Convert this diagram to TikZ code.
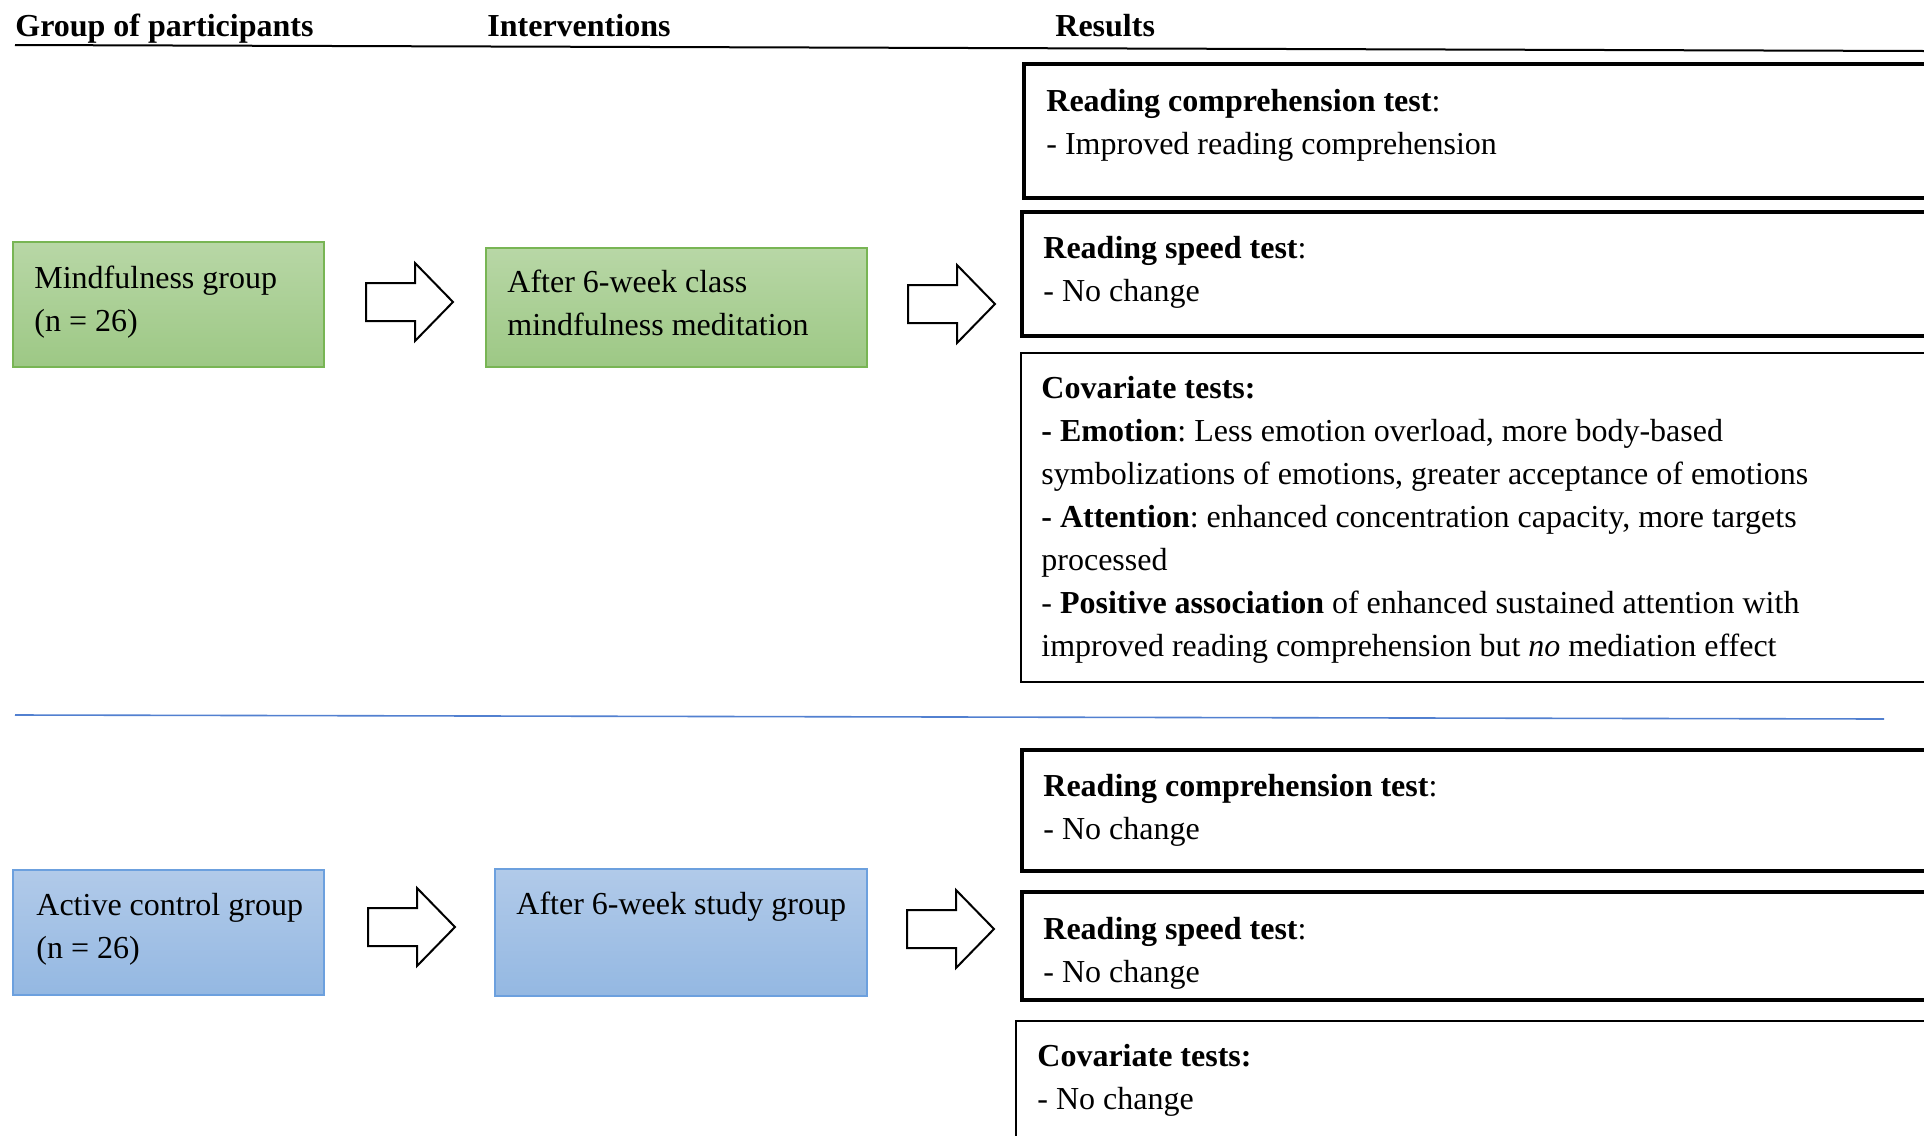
\documentclass[tikz,border=0pt]{standalone}
\usepackage{fontspec}
\setmainfont{Liberation Serif}
\frenchspacing
\definecolor{greenTop}{RGB}{184,215,166}
\definecolor{greenBot}{RGB}{157,200,133}
\definecolor{greenEdge}{RGB}{120,181,84}
\definecolor{blueTop}{RGB}{177,202,233}
\definecolor{blueBot}{RGB}{148,184,226}
\definecolor{blueEdge}{RGB}{108,160,222}
\definecolor{ruleBlue}{RGB}{82,128,208}
% left-aligned block of lines whose baseline is that of its first line
\newcommand\boxlines[1]{\begin{tabular}[t]{@{}l@{}}#1\end{tabular}}
\tikzset{
  txt/.style={anchor=base west, inner sep=0pt,
    font=\fontsize{16}{21.5}\selectfont},
  panel/.style={anchor=north west, inner sep=0pt, outer sep=0pt},
  greenbox/.style={panel, draw=greenEdge, line width=0.7pt,
    top color=greenTop, bottom color=greenBot},
  bluebox/.style={panel, draw=blueEdge, line width=0.7pt,
    top color=blueTop, bottom color=blueBot},
  resthick/.style={panel, draw=black, line width=1.75pt},
  resthin/.style={panel, draw=black, line width=0.6pt},
  blockarrow/.pic={
    \draw[line width=1pt, fill=white, miter limit=10]
      (0,-19) -- (49,-19) -- (49,-39) -- (87,0) -- (49,39) -- (49,19) -- (0,19) -- cycle;}
}
\begin{document}
\begin{tikzpicture}[x=0.5pt, y=-0.5pt]
  \useasboundingbox (0,0) rectangle (1924,1136);
  \clip (0,0) rectangle (1924,1136);

  % column headings and rules
  \node[txt, font=\fontsize{16}{21.5}\selectfont\bfseries] (hGroup) at (15,36) {Group of participants};
  \node[txt, font=\fontsize{16}{21.5}\selectfont\bfseries] (hInt) at (487,36) {Interventions};
  \node[txt, font=\fontsize{16}{21.5}\selectfont\bfseries] (hRes) at (1055,36) {Results};
  \coordinate (topL) at (15,45);
  \coordinate (topR) at (1924,51);
  \draw[line width=1pt] (topL) -- (topR);
  \coordinate (midL) at (15,715);
  \coordinate (midR) at (1884,719);
  \draw[ruleBlue, line width=0.8pt] (midL) -- (midR);

  % mindfulness branch
  \node[greenbox, minimum width=155.5pt, minimum height=62.5pt] (mind) at (13,242) {};
  \node[txt] (mindT) at (34,288) {\boxlines{Mindfulness group\\(n = 26)}};
  \node[greenbox, minimum width=190.5pt, minimum height=59.5pt] (int1) at (486,248) {};
  \node[txt] (int1T) at (507,292) {\boxlines{After 6-week class\\mindfulness meditation}};
  \pic (arA) at (366,302) {blockarrow};
  \pic (arB) at (908,304) {blockarrow};

  \node[resthick, minimum width=468.5pt, minimum height=67pt] (rc1) at (1024,64) {};
  \node[txt] (rc1T) at (1046,111) {\boxlines{\textbf{Reading comprehension test}:\\- Improved reading comprehension}};
  \node[resthick, minimum width=469.5pt, minimum height=62pt] (rs1) at (1022,212) {};
  \node[txt] (rs1T) at (1043,258) {\boxlines{\textbf{Reading speed test}:\\- No change}};
  \node[resthin, minimum width=469.5pt, minimum height=164.5pt] (cov1) at (1021,353) {};
  \node[txt] (cov1T) at (1041,398) {\boxlines{\textbf{Covariate tests:}\\
    \textbf{- Emotion}: Less emotion overload, more body-based\\
    symbolizations of emotions, greater acceptance of emotions\\
    \textbf{- Attention}: enhanced concentration capacity, more targets\\
    processed\\
    - \textbf{Positive association} of enhanced sustained attention with\\
    improved reading comprehension but \textit{no} mediation effect}};

  % active control branch
  \node[bluebox, minimum width=155.5pt, minimum height=62.5pt] (act) at (13,870) {};
  \node[txt] (actT) at (36,915) {\boxlines{Active control group\\(n = 26)}};
  \node[bluebox, minimum width=186pt, minimum height=63.5pt] (int2) at (495,869) {};
  \node[txt] (int2T) at (516,914) {After 6-week study group};
  \pic (arC) at (368,927) {blockarrow};
  \pic (arD) at (907,929) {blockarrow};

  \node[resthick, minimum width=469.5pt, minimum height=60.5pt] (rc2) at (1022,750) {};
  \node[txt] (rc2T) at (1043,796) {\boxlines{\textbf{Reading comprehension test}:\\- No change}};
  \node[resthick, minimum width=469.5pt, minimum height=54pt] (rs2) at (1022,892) {};
  \node[txt] (rs2T) at (1043,939) {\boxlines{\textbf{Reading speed test}:\\- No change}};
  \node[resthin, minimum width=472pt, minimum height=69.5pt] (cov2) at (1016,1021) {};
  \node[txt] (cov2T) at (1037,1066) {\boxlines{\textbf{Covariate tests:}\\- No change}};
\end{tikzpicture}
\end{document}
